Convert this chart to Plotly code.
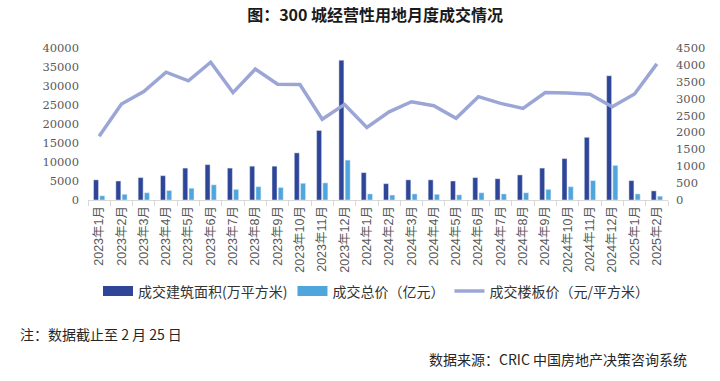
import plotly.graph_objects as go

months = [f"2023年{m}月" for m in range(1, 13)] + [f"2024年{m}月" for m in range(1, 13)] + ["2025年1月", "2025年2月"]

area = [5300, 5000, 5900, 6400, 8400, 9300, 8400, 8900, 8900, 12400, 18300, 36800,
        7200, 4300, 5300, 5300, 5000, 5900, 5600, 6600, 8400, 10900, 16500, 32700,
        5100, 2400]
total = [1100, 1500, 1900, 2500, 3100, 4000, 2800, 3500, 3300, 4400, 4500, 10500,
         1600, 1300, 1600, 1500, 1350, 1900, 1600, 1900, 2800, 3500, 5100, 9100,
         1600, 1000]
price = [1890, 2840, 3210, 3785, 3530, 4080, 3180, 3875, 3430, 3420, 2390, 2830,
         2150, 2610, 2910, 2790, 2420, 3060, 2860, 2710, 3180, 3170, 3130, 2760,
         3140, 4030]

names = ["成交建筑面积(万平方米)", "成交总价（亿元）", "成交楼板价（元/平方米）"]
c_dark = "#2f4597"
c_light = "#4fa6dc"
c_line = "#9ba6d6"

fig = go.Figure()
fig.add_trace(go.Bar(x=months, y=area, name=names[0], marker_color=c_dark, showlegend=False, yaxis="y"))
fig.add_trace(go.Bar(x=months, y=total, name=names[1], marker_color=c_light, showlegend=False, yaxis="y"))
# legend proxies (wide rectangles like the reference)
fig.add_trace(go.Scatter(x=[None], y=[None], mode="lines", name=names[0], line=dict(color=c_dark, width=10)))
fig.add_trace(go.Scatter(x=[None], y=[None], mode="lines", name=names[1], line=dict(color=c_light, width=10)))
fig.add_trace(go.Scatter(x=months, y=price, name=names[2], mode="lines", line=dict(color=c_line, width=3.5), yaxis="y2"))

axis_font = dict(family="DejaVu Serif", size=11.5, color="#595959")
fig.update_layout(
    width=720, height=381,
    margin=dict(l=88, r=52, t=48, b=181),
    paper_bgcolor="white", plot_bgcolor="white",
    barmode="group", bargap=0.44, bargroupgap=0.2,
    title=dict(text="图：300 城经营性用地月度成交情况", x=0.521, xref="container", xanchor="center",
               y=1 - 15 / 381, yref="container", yanchor="middle",
               font=dict(family="Noto Sans CJK SC", size=16, color="#1a1a1a", weight="bold")),
    xaxis=dict(type="category", showline=True, linecolor="#d9d9d9", linewidth=1,
               ticks="outside", tickson="boundaries", ticklen=5, tickcolor="#d9d9d9",
               tickangle=-90, showgrid=False, automargin=False,
               tickfont=dict(family="Liberation Sans, Noto Sans CJK SC", size=12.5, color="#595959")),
    yaxis=dict(range=[0, 40000], dtick=5000, tickformat="d", showgrid=False, zeroline=False, showline=False,
               tickfont=axis_font, ticklabelstandoff=8, automargin=False),
    yaxis2=dict(range=[0, 4500], dtick=500, tickformat="d", overlaying="y", side="right", showgrid=False,
                zeroline=False, showline=False, tickfont=axis_font, ticklabelstandoff=7, automargin=False),
    legend=dict(orientation="h", x=(98 - 88) / 580, xanchor="left",
                y=(199.5 - 291) / 152, yanchor="middle", itemwidth=30,
                font=dict(family="Noto Sans CJK SC", size=14, color="#333333"),
                bgcolor="rgba(0,0,0,0)"),
    annotations=[
        dict(text="注：数据截止至 2 月 25 日", xref="paper", yref="paper",
             x=(18 - 88) / 580, y=(199.5 - 333) / 152, xanchor="left", yanchor="middle",
             showarrow=False, font=dict(family="Noto Sans CJK SC", size=14, color="#262626")),
        dict(text="数据来源：CRIC 中国房地产决策咨询系统", xref="paper", yref="paper",
             x=(689 - 88) / 580, y=(199.5 - 358) / 152, xanchor="right", yanchor="middle",
             showarrow=False, font=dict(family="Noto Sans CJK SC", size=14, color="#262626")),
    ],
)

fig.write_html("out.html", config={"displayModeBar": False},
               post_script="document.body.style.margin='0';document.body.style.overflow='hidden';")
